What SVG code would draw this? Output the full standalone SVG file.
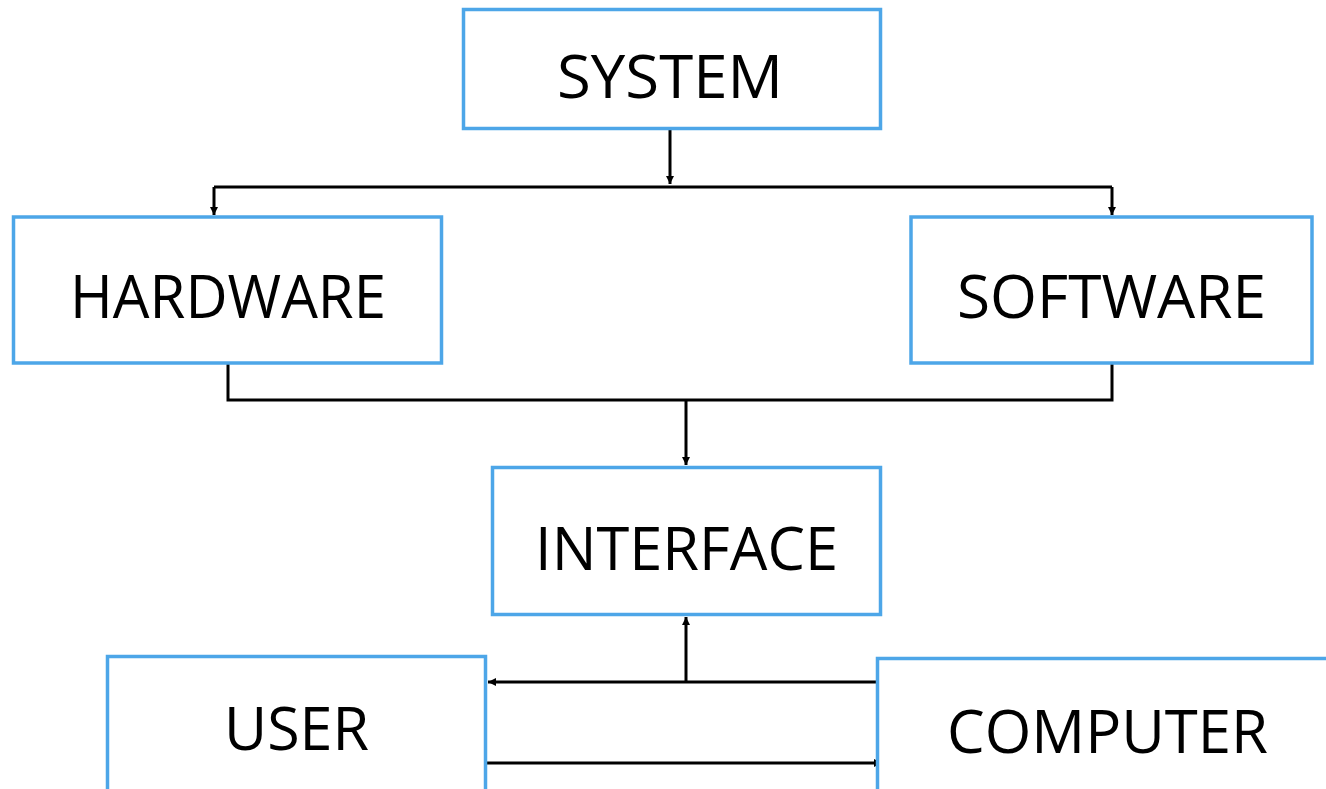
<svg xmlns="http://www.w3.org/2000/svg" width="1326" height="789" viewBox="0 0 1326 789">
  <style>
    .box { fill: #ffffff; stroke: #4DA6E8; stroke-width: 3.5; }
    .lbl { font-family: "Open Sans", "Noto Sans", sans-serif; font-size: 60px; fill: #000000; lengthAdjust: spacingAndGlyphs; }
    .wire { fill: none; stroke: #000000; stroke-width: 3; }
  </style>
  <defs>
    <marker id="arrow" markerUnits="userSpaceOnUse" markerWidth="10" markerHeight="10" refX="8" refY="5" orient="auto">
      <path d="M0,1 L8,5 L0,9 Z" fill="#000000"/>
    </marker>
  </defs>
  <rect width="1326" height="789" fill="#ffffff"/>

  <g id="connectors">
    <!-- SYSTEM splits to HARDWARE and SOFTWARE -->
    <path class="wire" d="M670,129 V184" marker-end="url(#arrow)"/>
    <path class="wire" d="M214,187 H1112"/>
    <path class="wire" d="M214,187 V215" marker-end="url(#arrow)"/>
    <path class="wire" d="M1112,187 V215" marker-end="url(#arrow)"/>
    <!-- HARDWARE and SOFTWARE merge into INTERFACE -->
    <path class="wire" d="M228,363 V400 H1112 V363"/>
    <path class="wire" d="M686,400 V465" marker-end="url(#arrow)"/>
    <!-- COMPUTER feeds USER and INTERFACE -->
    <path class="wire" d="M877,682 H488" marker-end="url(#arrow)"/>
    <path class="wire" d="M686,682 V617" marker-end="url(#arrow)"/>
    <!-- USER to COMPUTER -->
    <path class="wire" d="M486,763 H882" marker-end="url(#arrow)"/>
  </g>

  <g id="system">
    <rect class="box" x="463.5" y="9.5" width="417" height="119"/>
    <text class="lbl" x="557" y="98" textLength="226" lengthAdjust="spacingAndGlyphs">SYSTEM</text>
  </g>
  <g id="hardware">
    <rect class="box" x="13.5" y="217" width="428" height="146"/>
    <text class="lbl" x="70" y="318" textLength="316" lengthAdjust="spacingAndGlyphs">HARDWARE</text>
  </g>
  <g id="software">
    <rect class="box" x="911" y="217" width="401" height="146"/>
    <text class="lbl" x="957" y="318" textLength="309" lengthAdjust="spacingAndGlyphs">SOFTWARE</text>
  </g>
  <g id="interface">
    <rect class="box" x="492.5" y="467.5" width="388" height="147"/>
    <text class="lbl" x="535" y="570" textLength="303" lengthAdjust="spacingAndGlyphs">INTERFACE</text>
  </g>
  <g id="user">
    <rect class="box" x="107.5" y="656.5" width="378" height="140"/>
    <text class="lbl" x="224" y="750" textLength="145" lengthAdjust="spacingAndGlyphs">USER</text>
  </g>
  <g id="computer">
    <rect class="box" x="877.5" y="658.5" width="460" height="140"/>
    <text class="lbl" x="947" y="753" textLength="321" lengthAdjust="spacingAndGlyphs">COMPUTER</text>
  </g>
</svg>
